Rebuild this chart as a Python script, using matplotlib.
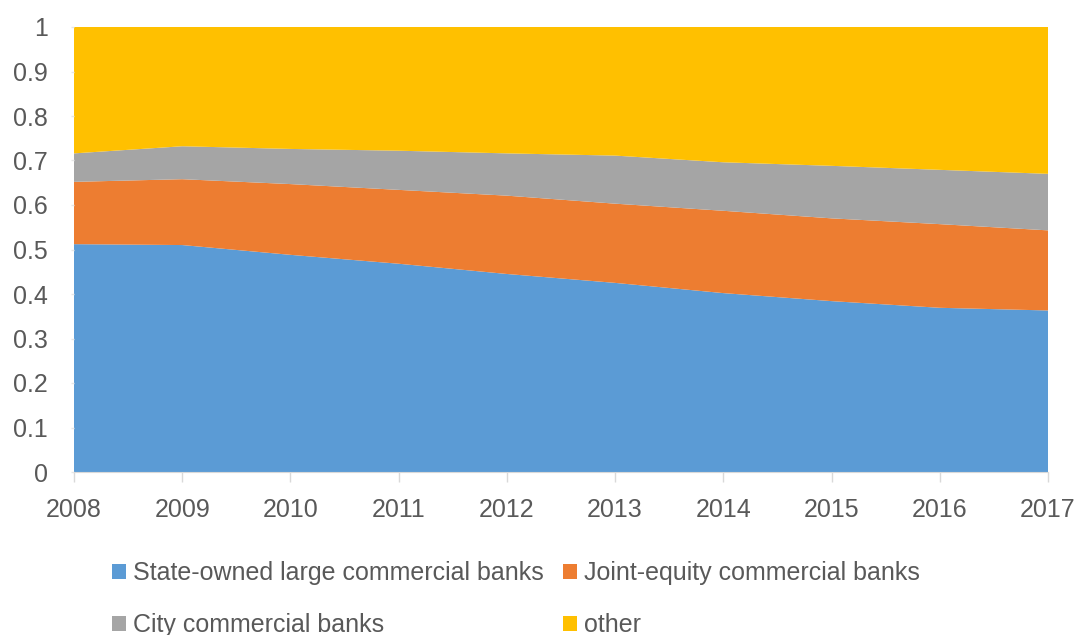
import numpy as np
import matplotlib
matplotlib.use("Agg")
import matplotlib.pyplot as plt
from matplotlib.patches import Patch

# Share of banking assets by institution type
years = [2008, 2009, 2010, 2011, 2012, 2013, 2014, 2015, 2016, 2017]
state_owned = [0.512, 0.510, 0.488, 0.468, 0.445, 0.425, 0.402, 0.384, 0.369, 0.363]
joint_equity = [0.140, 0.148, 0.159, 0.166, 0.176, 0.178, 0.185, 0.186, 0.188, 0.180]
city_banks = [0.064, 0.074, 0.079, 0.088, 0.095, 0.108, 0.109, 0.118, 0.122, 0.127]
other = [0.284, 0.268, 0.274, 0.278, 0.284, 0.289, 0.304, 0.312, 0.321, 0.330]

labels = ["State-owned large commercial banks", "Joint-equity commercial banks",
          "City commercial banks", "other"]
colors = ["#5b9bd5", "#ed7d31", "#a5a5a5", "#ffc000"]

plt.rcParams['font.family'] = ['Liberation Sans', 'DejaVu Sans']
text_color = "#595959"

fig = plt.figure(figsize=(10.78, 6.35), dpi=100)
ax = fig.add_axes([74 / 1078, 1 - 472 / 635, (1048 - 74) / 1078, (472 - 27) / 635])

ax.stackplot(years, state_owned, joint_equity, city_banks, other,
             colors=colors, edgecolor="none")

ax.set_xlim(years[0], years[-1])
ax.set_ylim(0, 1)
ax.set_xticks(years)
ax.set_yticks(np.arange(0, 1.01, 0.1))
ax.set_yticklabels(["0", "0.1", "0.2", "0.3", "0.4", "0.5", "0.6", "0.7", "0.8", "0.9", "1"])

for side in ["top", "right", "left"]:
    ax.spines[side].set_visible(False)
ax.spines["bottom"].set_color("#d9d9d9")
ax.tick_params(axis="x", colors="#d9d9d9", length=7, width=1, labelcolor=text_color,
               labelsize=18, pad=12)
ax.tick_params(axis="y", colors="#e6e6e6", length=2, width=1, labelcolor=text_color,
               labelsize=18, pad=17)

# legend fills column-wise, so order entries to read across rows
order = [0, 2, 1, 3]
handles = [Patch(facecolor=colors[i], edgecolor="none") for i in order]
fig.legend(handles, [labels[i] for i in order], ncol=2, loc="upper left",
           bbox_to_anchor=(112 / 1078, 1 - 561 / 635), frameon=False, fontsize=18,
           labelcolor=text_color, handlelength=0.55, handleheight=0.55,
           handletextpad=0.3, columnspacing=0.75, labelspacing=1.12,
           borderpad=0, borderaxespad=0)

fig.savefig("out.png", dpi=100)
